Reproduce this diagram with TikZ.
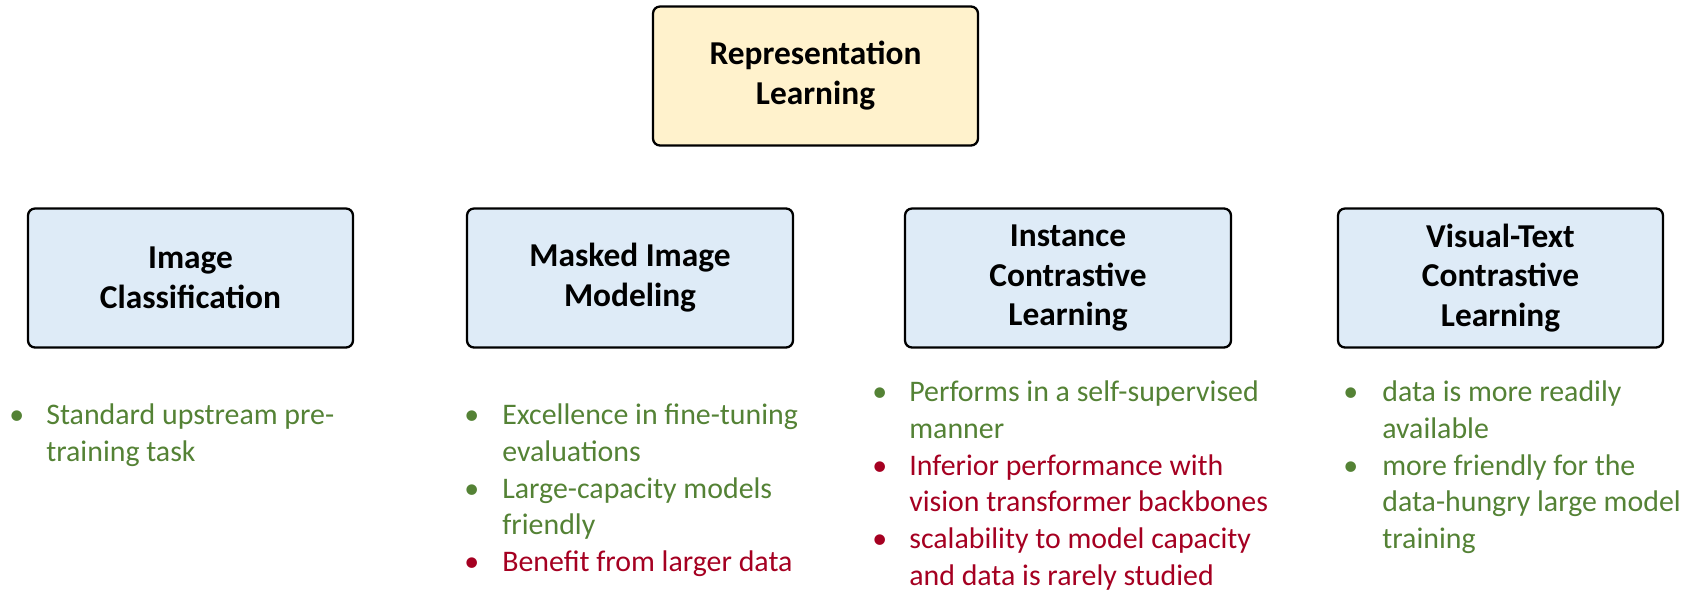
\documentclass[tikz,border=0pt]{standalone}
\usepackage{fontspec}
\setmainfont{Carlito}
\begin{document}
\begin{tikzpicture}[x=0.02cm,y=-0.02cm,
  box/.style={draw=black,line width=1.3pt,rounded corners=4pt,fill=#1,align=center,
    font=\fontsize{19}{22.7}\selectfont\bfseries,inner sep=0pt},
  txt/.style={anchor=west,inner sep=0pt,text height=11pt,text depth=3.5pt,font=\fontsize{17}{20.9}\selectfont},
  g/.style={txt,text=tgreen},
  r/.style={txt,text=tred}]
\definecolor{tgreen}{HTML}{548235}
\definecolor{tred}{HTML}{A50021}
\definecolor{yel}{HTML}{FFF2CC}
\definecolor{blu}{HTML}{DEEBF7}
\useasboundingbox (0,0) rectangle (1684,593);
\node[box=yel,minimum width=325*0.02cm,minimum height=139*0.02cm] (top) at (815.5,76) {Representation\\Learning};
\node[box=blu,minimum width=325*0.02cm,minimum height=139*0.02cm] (b1) at (190.5,278) {Image\\Classification};
\node[box=blu,minimum width=326*0.02cm,minimum height=139*0.02cm] (b2) at (630,278) {Masked Image\\Modeling};
\node[box=blu,minimum width=326*0.02cm,minimum height=139*0.02cm] (b3) at (1068,278) {Instance\\Contrastive\\Learning};
\node[box=blu,minimum width=325*0.02cm,minimum height=139*0.02cm] (b4) at (1500.5,278) {Visual-Text\\Contrastive\\Learning};
% box 1
\node[g] (b1a) at (9,418) {•};
\node[g] (t1a) at (46,418) {Standard upstream pre-};
\node[g] (t1b) at (46,455) {training task};
% box 2
\node[g] (b2a) at (464,418) {•};
\node[g] (t2a) at (502,418) {Excellence in fine-tuning};
\node[g] (t2b) at (502,455) {evaluations};
\node[g] (b2b) at (464,492) {•};
\node[g] (t2c) at (502,492) {Large-capacity models};
\node[g] (t2d) at (502,528) {friendly};
\node[r] (b2c) at (464,565) {•};
\node[r] (t2e) at (502,565) {Benefit from larger data};
% box 3
\node[g] (b3a) at (872,395) {•};
\node[g] (t3a) at (909,395) {Performs in a self-supervised};
\node[g] (t3b) at (909,432) {manner};
\node[r] (b3b) at (872,469) {•};
\node[r] (t3c) at (909,469) {Inferior performance with};
\node[r] (t3d) at (909,505) {vision transformer backbones};
\node[r] (b3c) at (872,542) {•};
\node[r] (t3e) at (909,542) {scalability to model capacity};
\node[r] (t3f) at (909,579) {and data is rarely studied};
% box 4
\node[g] (b4a) at (1343,395) {•};
\node[g] (t4a) at (1382,395) {data is more readily};
\node[g] (t4b) at (1382,432) {available};
\node[g] (b4b) at (1343,469) {•};
\node[g] (t4c) at (1382,469) {more friendly for the};
\node[g] (t4d) at (1382,505) {data-hungry large model};
\node[g] (t4e) at (1382,542) {training};
\end{tikzpicture}
\end{document}
